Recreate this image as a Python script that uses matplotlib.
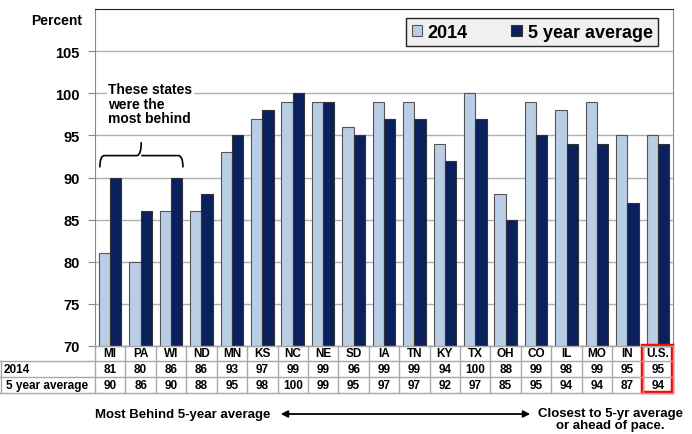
import numpy as np
import matplotlib

matplotlib.use("Agg")
import matplotlib.pyplot as plt  # noqa: E402
from matplotlib.lines import Line2D  # noqa: E402
from matplotlib.patches import Rectangle, PathPatch  # noqa: E402
from matplotlib.path import Path  # noqa: E402
from matplotlib.transforms import blended_transform_factory  # noqa: E402

states = ["MI", "PA", "WI", "ND", "MN", "KS", "NC", "NE", "SD", "IA",
          "TN", "KY", "TX", "OH", "CO", "IL", "MO", "IN", "U.S."]
pct_2014 = [81, 80, 86, 86, 93, 97, 99, 99, 96, 99, 99, 94, 100, 88, 99, 98, 99, 95, 95]
pct_5yr = [90, 86, 90, 88, 95, 98, 100, 99, 95, 97, 97, 92, 97, 85, 95, 94, 94, 87, 94]
row_labels = ["2014", "5 year average"]

plt.rcParams["font.family"] = ["Liberation Sans", "DejaVu Sans"]
plt.rcParams["font.weight"] = "bold"

W, H = 692, 435
fig = plt.figure(figsize=(W / 100, H / 100), dpi=100)
ax = fig.add_axes([95 / W, 1 - 347 / H, (673 - 95) / W, (347 - 10) / H])

x = np.arange(len(states))
bw = 0.37
light = "#b9cde5"
dark = "#0b215e"
ax.bar(x - bw / 2, pct_2014, bw, color=light, edgecolor="#555555", linewidth=0.8,
       zorder=3, label="2014")
ax.bar(x + bw / 2, pct_5yr, bw, color=dark, edgecolor="#333333", linewidth=0.8,
       zorder=3, label="5 year average")

ax.set_xlim(-0.5, len(states) - 0.5)
ax.set_ylim(70, 110)
ax.set_yticks([70, 75, 80, 85, 90, 95, 100, 105])
ax.set_xticks([])
ax.tick_params(axis="y", length=5, color="#888888", labelsize=10.5, pad=6)
ax.yaxis.grid(True, color="#b0b0b0", linewidth=1.0, zorder=0)
ax.set_axisbelow(True)
for side in ["left", "bottom", "right"]:
    ax.spines[side].set_color("#888888")
ax.spines["top"].set_color("#222222")

fig.text(82 / W, 1 - 21 / H, "Percent", ha="right", va="center", fontsize=10)

leg = ax.legend(loc="upper right", bbox_to_anchor=(0.974, 0.972), ncol=2,
                fontsize=13, frameon=True, fancybox=False, handlelength=0.6,
                handleheight=0.6, columnspacing=2.4, handletextpad=0.3,
                borderpad=0.3, borderaxespad=0)
leg.get_frame().set_facecolor("#f0f0f0")
leg.get_frame().set_edgecolor("#222222")
leg.get_frame().set_linewidth(1.0)
leg.get_frame().set_alpha(1)

# brace annotation
ax.text(-0.07, 101.3, "These states\nwere the\nmost behind", ha="left", va="top",
        fontsize=10, linespacing=1.05, zorder=4,
        bbox=dict(facecolor="white", edgecolor="none", pad=1))
xl, xr, xm = -0.34, 2.39, 1.02
yb, yh, yt = 91.2, 92.6, 94.2
verts = [(xl, yb), (xl, yh), (xl + 0.15, yh), (xm - 0.15, yh),
         (xm, yh), (xm, yt),
         (xm, yh), (xm + 0.15, yh), (xr - 0.15, yh),
         (xr, yh), (xr, yb)]
codes = [Path.MOVETO, Path.CURVE3, Path.CURVE3, Path.LINETO,
         Path.CURVE3, Path.CURVE3,
         Path.MOVETO, Path.LINETO, Path.LINETO,
         Path.CURVE3, Path.CURVE3]
ax.add_patch(PathPatch(Path(verts, codes), facecolor="none", edgecolor="black",
                       linewidth=1.2, zorder=4))

# data table below the axes
tr = blended_transform_factory(ax.transData, fig.transFigure)
rows_px = [347, 362, 378, 394]
rows_y = [1 - p / H for p in rows_px]
grid_c = "#a8a8a8"
for i in range(len(states) + 1):
    fig.add_artist(Line2D([i - 0.5, i - 0.5], [rows_y[0], rows_y[-1]], transform=tr,
                          color=grid_c, linewidth=1))
for k, yy in enumerate(rows_y):
    x0 = 0 / W if k > 0 else 95 / W
    fig.add_artist(Line2D([x0, 673 / W], [yy, yy], transform=fig.transFigure,
                          color=grid_c, linewidth=1))
fig.add_artist(Line2D([1 / W, 1 / W], [rows_y[1], rows_y[-1]], transform=fig.transFigure,
                      color=grid_c, linewidth=1))

row_vals = [states, pct_2014, pct_5yr]
for r, vals in enumerate(row_vals):
    yc = (rows_y[r] + rows_y[r + 1]) / 2
    for i, v in enumerate(vals):
        fig.text(i, yc, str(v), transform=tr, ha="center", va="center", fontsize=8.5)
for r, lab in enumerate(row_labels):
    yc = (rows_y[r + 1] + rows_y[r + 2]) / 2
    fig.text(4 / W if r == 0 else 6 / W, yc, lab, ha="left", va="center", fontsize=8.5)

us = len(states) - 1
fig.add_artist(Rectangle((us - 0.52, 1 - 393 / H), 1.0, (393 - 346) / H,
                         transform=tr, facecolor="none", edgecolor="#ff0000",
                         linewidth=2.5))

# bottom arrow
fig.text(270 / W, 1 - 415 / H, "Most Behind 5-year average", ha="right", va="center",
         fontsize=9.5)
ax.annotate("", xy=(533 / W, 1 - 415 / H), xytext=(278 / W, 1 - 415 / H),
            xycoords="figure fraction", textcoords="figure fraction",
            arrowprops=dict(arrowstyle="<|-|>", color="black", linewidth=1.3,
                            mutation_scale=10))
fig.text(610 / W, 1 - 408 / H, "Closest to 5-yr average\nor ahead of pace.",
         ha="center", va="top", fontsize=9.5, linespacing=1.05)

fig.savefig("out.png", dpi=100)
